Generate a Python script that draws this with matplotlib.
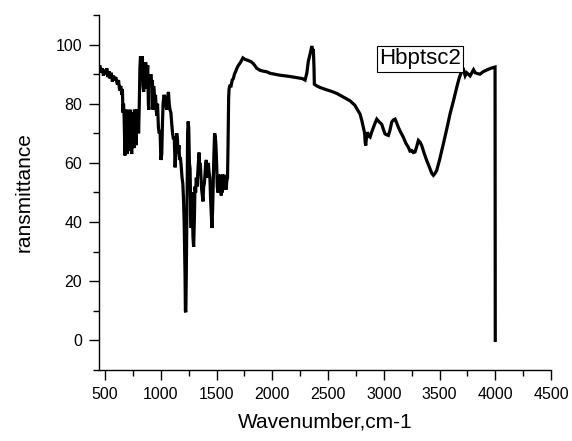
import matplotlib
matplotlib.use("Agg")
import matplotlib.pyplot as plt
from matplotlib.ticker import MultipleLocator

plt.rcParams['font.family'] = ['Liberation Sans', 'DejaVu Sans']

wavenumber = [455, 465, 475, 485, 495, 505, 515, 525, 535, 545, 555, 565, 575, 585, 595,
              610, 620, 630, 640, 650, 655, 660, 665, 670, 678, 683, 688, 693, 698, 703,
              708, 713, 718, 723, 728, 733, 738, 743, 748, 753, 758, 763, 768, 773, 778,
              783, 790, 795, 800, 806, 812, 817, 822, 828, 834, 840, 846, 852, 858, 864,
              870, 876, 882, 888, 892, 898, 904, 910, 918, 924, 930, 935, 940, 946, 952,
              958, 964, 970, 978, 985, 993, 1000, 1008, 1014, 1020, 1028, 1038, 1045, 1052,
              1060, 1068, 1075, 1082, 1090, 1098, 1105, 1113, 1120, 1128, 1135, 1142, 1149,
              1155, 1162, 1168, 1175, 1182, 1190, 1197, 1203, 1209, 1213, 1217, 1220, 1224,
              1228, 1232, 1236, 1240, 1245, 1250, 1256, 1262, 1268, 1272, 1276, 1282, 1288,
              1294, 1300, 1306, 1312, 1318, 1324, 1330, 1336, 1342, 1348, 1354, 1360, 1366,
              1372, 1378, 1384, 1390, 1396, 1402, 1408, 1414, 1420, 1426, 1432, 1440, 1446,
              1452, 1458, 1464, 1470, 1476, 1482, 1488, 1494, 1500, 1506, 1512, 1518, 1522,
              1526, 1530, 1534, 1538, 1542, 1546, 1550, 1555, 1560, 1565, 1572, 1578, 1585,
              1592, 1598, 1603, 1608, 1612, 1618, 1630, 1640, 1650, 1660, 1672, 1682, 1696,
              1715, 1736, 1755, 1771, 1790, 1810, 1831, 1860, 1890, 1920, 1950, 1980, 2020,
              2060, 2100, 2160, 2220, 2270, 2294, 2310, 2323, 2340, 2354, 2362, 2368, 2374,
              2377, 2400, 2428, 2480, 2530, 2578, 2640, 2697, 2740, 2787, 2805, 2817, 2828,
              2833, 2838, 2845, 2853, 2865, 2877, 2892, 2907, 2922, 2937, 2955, 2970, 2982,
              2995, 3011, 3026, 3041, 3055, 3071, 3085, 3101, 3116, 3131, 3150, 3175, 3200,
              3220, 3235, 3250, 3265, 3280, 3295, 3310, 3325, 3340, 3360, 3385, 3410, 3430,
              3445, 3460, 3475, 3500, 3534, 3565, 3594, 3625, 3654, 3675, 3699, 3715, 3730,
              3743, 3758, 3774, 3790, 3805, 3819, 3840, 3863, 3890, 3923, 3960, 3998, 4000]

transmittance = [92.5, 90.5, 92, 89.5, 91.5, 90, 92, 89, 91, 88.5, 90.5, 87.5, 89.5, 88, 89,
                 86.5, 88, 84.5, 86, 83, 85, 77, 80, 76, 62.5, 75, 66, 78, 63, 76,
                 67, 77, 64, 78, 69, 76, 63, 77, 68, 77, 65, 78, 70, 77, 66,
                 78, 71, 78, 70, 79, 92, 96, 95, 93, 96, 86, 84, 92, 88, 94,
                 85, 89, 93, 80, 78, 90, 88, 90, 87, 88, 78, 86, 84, 80, 83,
                 78, 76, 80, 72, 70, 71, 61, 63, 73, 80, 83, 82, 80, 78,
                 82, 84, 80, 78, 77, 73, 70, 68, 69, 58.5, 64, 70, 68,
                 63, 66, 61, 62, 59, 55, 53, 48, 40, 30, 22, 10, 9.5,
                 22, 38, 50, 70, 74, 72, 60, 58, 44, 38, 50, 46, 35,
                 31.6, 40, 52, 50, 55, 52, 56, 60, 63.5, 58, 60, 55, 51,
                 49, 47, 52, 53, 56, 60, 61, 58, 55, 60, 57, 55, 48,
                 43, 38, 44, 54, 63, 70, 69, 66, 60, 52, 50, 56, 52,
                 55, 50, 56, 52, 49, 55, 50, 56, 51, 56, 52, 55, 51,
                 54, 55, 67, 82, 85, 86, 86, 88, 88.5, 90, 91, 92, 93,
                 94, 95.5, 95, 94.8, 94.5, 94.2, 93.5, 92, 91.3, 91, 90.8, 90.3, 90,
                 89.7, 89.5, 89.2, 88.8, 88.5, 88, 90.5, 94.4, 97, 99.5, 98, 98.5, 92,
                 86.6, 86, 85.5, 84.8, 84.2, 83.5, 82.2, 81, 79.5, 76.5, 74, 72, 70,
                 67, 65.9, 69, 70.4, 69, 68.7, 70.5, 72, 73.5, 74.8, 74, 73.5, 73,
                 71.5, 69.8, 69.5, 69.3, 71, 73.8, 74.5, 74.8, 73.5, 72, 70.5, 68.7, 66.5,
                 65.3, 64, 64.2, 63.5, 63.7, 65.5, 67.6, 67, 65.9, 63.5, 60.8, 58.5, 56.5,
                 55.8, 56.5, 57.5, 61, 66.4, 71.5, 76.5, 81, 85.5, 88.5, 91.1, 91.5, 89.5,
                 90.5, 90, 89.4, 90.5, 91.5, 90.5, 90.2, 90, 90.8, 91.4, 92, 92.4, 0]

x_ticks = [500, 1000, 1500, 2000, 2500, 3000, 3500, 4000, 4500]
y_ticks = [0, 20, 40, 60, 80, 100]
series_name = "Hbptsc2"

fig = plt.figure(figsize=(5.72, 4.41), dpi=100)
ax = fig.add_axes([99/572, 1 - 370/441, (551 - 99)/572, (370 - 15)/441])

ax.plot(wavenumber, transmittance, color='black', lw=2.3, solid_joinstyle='miter')

ax.set_xlim(445, 4500)
ax.set_ylim(-10, 110)
ax.set_xticks(x_ticks)
ax.set_yticks(y_ticks)
ax.xaxis.set_minor_locator(MultipleLocator(250))
ax.yaxis.set_minor_locator(MultipleLocator(10))

for s in ['top', 'right']:
    ax.spines[s].set_visible(False)
for s in ['left', 'bottom']:
    ax.spines[s].set_linewidth(1.0)

ax.tick_params(which='major', direction='out', length=7, width=1.0,
               labelsize=11.5, pad=5, colors='black')
ax.tick_params(which='minor', direction='out', length=4, width=1.0)

ax.set_xlabel("Wavenumber,cm-1", fontsize=15, labelpad=8)
ax.set_ylabel("ransmittance", fontsize=15, labelpad=16)

ax.text(3325, 95.2, series_name, fontsize=16, ha='center', va='center',
        bbox=dict(boxstyle='square,pad=0.1', facecolor='white', edgecolor='black', lw=0.8),
        zorder=5)

fig.savefig("out.png", dpi=100)
